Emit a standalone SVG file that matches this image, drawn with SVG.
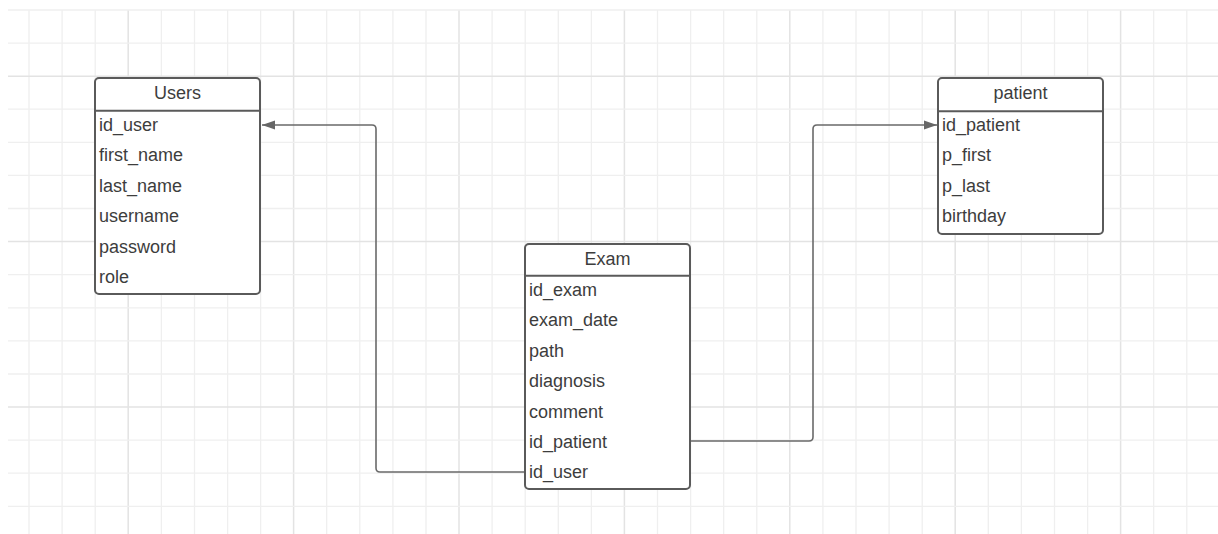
<svg xmlns="http://www.w3.org/2000/svg" width="1218" height="534" viewBox="0 0 1218 534">
<style>
.g{stroke:#efefef;stroke-width:1.3;fill:none}
.gm{stroke:#e3e3e3;stroke-width:1.5;fill:none}
.box{fill:#fff;stroke:#5a5a5a;stroke-width:2}
.div{stroke:#5a5a5a;stroke-width:2}
.t{font-family:"Liberation Sans",Arial,sans-serif;font-size:18px;fill:#3d3d3d}
.h{text-anchor:middle}
.c{fill:none;stroke:#6a6a6a;stroke-width:1.6}
</style>
<defs>
<marker id="ah" markerWidth="14" markerHeight="10" refX="13" refY="5" orient="auto" markerUnits="userSpaceOnUse">
<path d="M0,0.5 L13,5 L0,9.5 Z" fill="#666"/>
</marker>
</defs>
<rect width="1218" height="534" fill="#fff"/>
<g id="grid">
<path class="g" d="M29,10V534M62.1,10V534M95.2,10V534M161.4,10V534M194.5,10V534M227.6,10V534M260.6,10V534M326.7,10V534M359.8,10V534M392.9,10V534M426,10V534M492.1,10V534M525.2,10V534M558.3,10V534M591.4,10V534M657.5,10V534M690.6,10V534M723.7,10V534M756.8,10V534M822.9,10V534M856,10V534M889.1,10V534M922.2,10V534M988.3,10V534M1021.4,10V534M1054.5,10V534M1087.6,10V534M1153.7,10V534M1186.8,10V534"/>
<path class="gm" d="M128.2,10V534M293.6,10V534M459,10V534M624.4,10V534M789.8,10V534M955.2,10V534M1120.6,10V534"/>
<path class="g" d="M8,10H1218M8,43.1H1218M8,109.2H1218M8,142.3H1218M8,175.4H1218M8,208.5H1218M8,274.7H1218M8,307.8H1218M8,340.9H1218M8,374H1218M8,440.1H1218M8,473.2H1218M8,506.3H1218"/>
<path class="gm" d="M8,76.2H1218M8,241.6H1218M8,407H1218"/>
</g>
<g id="connectors">
<path class="c" d="M525,472 H380 Q376,472 376,468 V129 Q376,125 372,125 H262" marker-end="url(#ah)"/>
<path class="c" d="M690,441 H809 Q813,441 813,437 V129 Q813,125 817,125 H937" marker-end="url(#ah)"/>
</g>
<g id="users">
<rect class="box" x="95" y="78" width="165" height="216" rx="4"/>
<line class="div" x1="95" y1="110.7" x2="260" y2="110.7"/>
<text class="t h" x="177.5" y="99">Users</text>
<text class="t" x="99" y="131">id_user</text>
<text class="t" x="99" y="161.4">first_name</text>
<text class="t" x="99" y="191.8">last_name</text>
<text class="t" x="99" y="222.2">username</text>
<text class="t" x="99" y="252.6">password</text>
<text class="t" x="99" y="283">role</text>
</g>
<g id="exam">
<rect class="box" x="525" y="244" width="165" height="245" rx="4"/>
<line class="div" x1="525" y1="275.7" x2="690" y2="275.7"/>
<text class="t h" x="607.5" y="264.5">Exam</text>
<text class="t" x="529" y="296">id_exam</text>
<text class="t" x="529" y="326.4">exam_date</text>
<text class="t" x="529" y="356.8">path</text>
<text class="t" x="529" y="387.2">diagnosis</text>
<text class="t" x="529" y="417.6">comment</text>
<text class="t" x="529" y="448">id_patient</text>
<text class="t" x="529" y="478.4">id_user</text>
</g>
<g id="patient">
<rect class="box" x="938" y="78" width="165" height="156" rx="4"/>
<line class="div" x1="938" y1="111.2" x2="1103" y2="111.2"/>
<text class="t h" x="1020.5" y="99">patient</text>
<text class="t" x="942" y="131">id_patient</text>
<text class="t" x="942" y="161.4">p_first</text>
<text class="t" x="942" y="191.8">p_last</text>
<text class="t" x="942" y="222.2">birthday</text>
</g>
</svg>
